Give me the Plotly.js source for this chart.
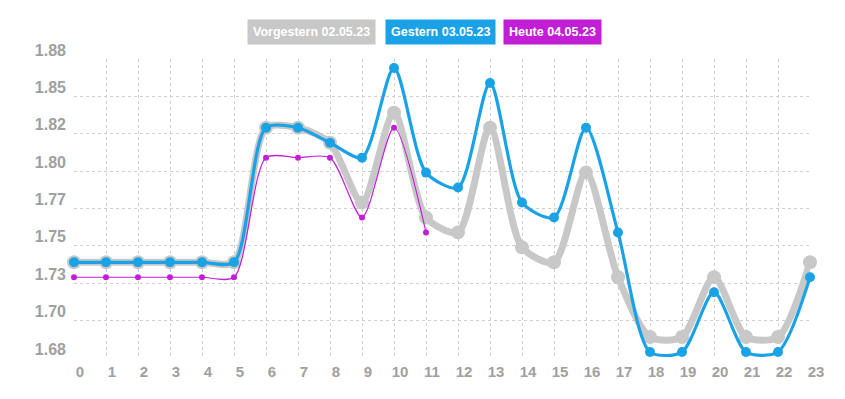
<!DOCTYPE html>
<html>
<head>
<meta charset="utf-8">
<script src="https://cdn.plot.ly/plotly-3.0.1.min.js"></script>
<style>html,body{margin:0;padding:0;background:#fff;}#chart{width:845px;height:399px;}</style>
</head>
<body>
<div id="chart"></div>
<script>
const hours = [0,1,2,3,4,5,6,7,8,9,10,11,12,13,14,15,16,17,18,19,20,21,22,23];
const hoursToday = [0,1,2,3,4,5,6,7,8,9,10,11];
const vorgestern = [1.739,1.739,1.739,1.739,1.739,1.739,1.829,1.829,1.819,1.779,1.839,1.769,1.759,1.829,1.749,1.739,1.799,1.729,1.689,1.689,1.729,1.689,1.689,1.739];
const gestern = [1.739,1.739,1.739,1.739,1.739,1.739,1.829,1.829,1.819,1.809,1.869,1.799,1.789,1.859,1.779,1.769,1.829,1.759,1.679,1.679,1.719,1.679,1.679,1.729];
const heute = [1.729,1.729,1.729,1.729,1.729,1.729,1.809,1.809,1.809,1.769,1.829,1.759];
const seriesNames = ['Vorgestern 02.05.23','Gestern 03.05.23','Heute 04.05.23'];
const yTickVals = [1.675,1.700,1.725,1.750,1.775,1.800,1.825,1.850,1.875];
const yTickText = ['1.68','1.70','1.73','1.75','1.77','1.80','1.82','1.85','1.88'];
const xTickText = hours.map(String);

const cGray = '#c8c8c8', cBlue = '#19a2e6', cPurple = '#c21ed6';
const fam = '"Liberation Sans", Arial, sans-serif';
const labX = {family:fam, size:15, color:'#a0a0a0', weight:'bold'};
const labY = {family:fam, size:16, color:'#a0a0a0', weight:'bold'};
const sm = 0.75;

const traces = [
  {x:hours, y:vorgestern, name:seriesNames[0], type:'scatter', mode:'lines+markers', cliponaxis:false,
   line:{color:cGray, width:7, shape:'spline', smoothing:sm}, marker:{color:cGray, size:14}},
  {x:hours, y:gestern, name:seriesNames[1], type:'scatter', mode:'lines+markers', cliponaxis:false,
   line:{color:cBlue, width:3.2, shape:'spline', smoothing:sm}, marker:{color:cBlue, size:10}},
  {x:hoursToday, y:heute, name:seriesNames[2], type:'scatter', mode:'lines+markers', cliponaxis:false,
   line:{color:cPurple, width:1.2, shape:'spline', smoothing:sm}, marker:{color:cPurple, size:6}},
  {x:[hours[0]], y:[yTickVals[0]], xaxis:'x2', yaxis:'y2', type:'scatter', mode:'markers', marker:{opacity:0}, hoverinfo:'skip', showlegend:false}
];

const legendColors = [cGray, cBlue, cPurple];
const legendX = [0.3169, 0.4874, 0.6365];
const annotations = seriesNames.map((n,i)=>({
  text:'<b>'+n+'</b>', xref:'paper', yref:'paper', x:legendX[i], y:1.0415, xanchor:'center', yanchor:'middle',
  showarrow:false, bgcolor:legendColors[i], borderpad:5, font:{family:fam, size:12.5, color:'#fff'}
}));

const layout = {
  width:845, height:399,
  margin:{l:74, r:20, t:45, b:41},
  paper_bgcolor:'#fff', plot_bgcolor:'rgba(0,0,0,0)',
  showlegend:false,
  xaxis:{domain:[0, 736/751], range:[0,23], tickvals:hours, showticklabels:false, showgrid:true, gridcolor:'#cfcfcf', griddash:'dot', gridwidth:1, zeroline:false, showline:false, ticks:''},
  yaxis:{domain:[0, 299/313], range:[yTickVals[0], yTickVals[yTickVals.length-1]], tickvals:yTickVals, showticklabels:false, showgrid:true, gridcolor:'#cfcfcf', griddash:'dot', gridwidth:1, zeroline:false, showline:false, ticks:''},
  xaxis2:{domain:[0,1], anchor:'free', position:0, side:'bottom', range:[-0.1875, 23.28], tickvals:hours, ticktext:xTickText, tickfont:labX, showgrid:false, zeroline:false, showline:false, ticks:'', ticklabelstandoff:3},
  yaxis2:{domain:[0,1], anchor:'free', position:0, side:'left', range:[1.669, 1.8783], tickvals:yTickVals, ticktext:yTickText, tickfont:labY, showgrid:false, zeroline:false, showline:false, ticks:'', ticklabelstandoff:8},
  annotations:annotations
};

Plotly.newPlot('chart', traces, layout, {displayModeBar:false, staticPlot:true});
</script>
</body>
</html>
